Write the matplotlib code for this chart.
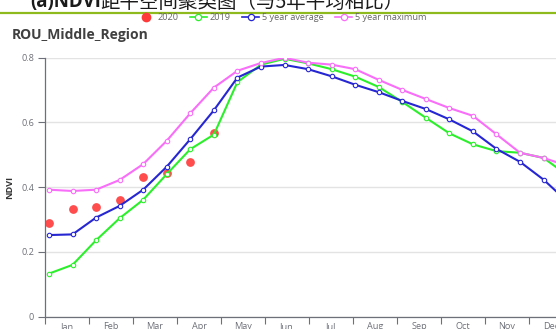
import matplotlib
matplotlib.use("Agg")
import matplotlib.pyplot as plt
from matplotlib.lines import Line2D

plt.rcParams['font.family'] = ['Open Sans', 'Noto Sans CJK SC', 'DejaVu Sans']

# 16-day composite periods (23 per year)
periods = list(range(1, 24))
months = ['Jan', 'Feb', 'Mar', 'Apr', 'May', 'Jun',
          'Jul', 'Aug', 'Sep', 'Oct', 'Nov', 'Dec']

ndvi_2020 = [0.288, 0.331, 0.340, 0.360, 0.430, 0.443, 0.477, 0.566]
ndvi_2019 = [0.133, 0.160, 0.236, 0.304, 0.361, 0.440, 0.517, 0.562, 0.724, 0.778,
             0.796, 0.782, 0.764, 0.741, 0.709, 0.663, 0.614, 0.566, 0.532, 0.511,
             0.506, 0.490, 0.437]
ndvi_avg5 = [0.252, 0.254, 0.306, 0.342, 0.392, 0.463, 0.548, 0.637, 0.738, 0.772,
             0.777, 0.764, 0.742, 0.716, 0.693, 0.666, 0.641, 0.609, 0.572, 0.518,
             0.478, 0.423, 0.356]
ndvi_max5 = [0.392, 0.388, 0.392, 0.422, 0.471, 0.543, 0.628, 0.707, 0.759, 0.783,
             0.799, 0.784, 0.778, 0.764, 0.731, 0.700, 0.672, 0.644, 0.620, 0.563,
             0.506, 0.490, 0.466]

c_red = '#ff3838'
c_green = '#2bef2b'
c_blue = '#2626d2'
c_pink = '#f86ef8'
c_axis = '#6e7079'

W, H = 556, 329
fig = plt.figure(figsize=(W / 100, H / 100), dpi=100)

# page header (partly outside the canvas) and separator rule
fig.text(30 / W, 1 - 7.5 / H, '(a)NDVI', fontsize=13.5, fontweight='bold',
         color='#1a1a1a', va='baseline', ha='left')
fig.text(100 / W, 1 - 7.5 / H, '距平空间聚类图（与5年平均相比）', fontsize=14,
         color='#1a1a1a', va='baseline', ha='left',
         family=['Noto Sans CJK SC', 'DejaVu Sans'])
fig.add_artist(Line2D([0, 1], [1 - 12.5 / H, 1 - 12.5 / H], color='#8fba1e',
                      lw=1.6, transform=fig.transFigure))

fig.text(12 / W, 1 - 34.5 / H, 'ROU_Middle_Region', fontsize=10, fontweight='bold',
         color='#404040', va='center', ha='left')

ax = fig.add_axes([45 / W, 12.3 / H, 528 / W, 259.2 / H])
ax.set_ylim(0, 0.8)
ax.set_yticks([0, 0.2, 0.4, 0.6, 0.8])
ax.set_yticklabels(['0', '0.2', '0.4', '0.6', '0.8'])
ax.grid(axis='y', color='#e3e3e3', lw=1.0)
ax.set_axisbelow(True)

# month axis: boundaries as ticks, names centred between them
ax.set_xlim(0, 12)
ax.set_xticks(range(13))
ax.set_xticklabels([])
ax.set_xticks([m + 0.5 for m in range(12)], minor=True)
ax.set_xticklabels(months, minor=True)
ax.tick_params(axis='x', which='major', length=5, width=0.8, color=c_axis)
ax.tick_params(axis='x', which='minor', length=0, pad=4, labelsize=6.6,
               labelcolor=c_axis)
ax.tick_params(axis='y', length=5, width=0.8, color=c_axis, pad=2.8,
               labelsize=6.6, labelcolor=c_axis)
for side in ['top', 'right']:
    ax.spines[side].set_visible(False)
for side in ['left', 'bottom']:
    ax.spines[side].set_color(c_axis)
    ax.spines[side].set_linewidth(0.9)

ax.set_ylabel('NDVI', fontsize=6.6, fontweight='bold', color='#333333')
ax.yaxis.set_label_coords(-0.058, 0.5)

# composite-period axis for the series
ax2 = ax.twiny()
ax2.set_xlim(0.83, 23.25)
ax2.tick_params(top=False, labeltop=False)
for sp in ax2.spines.values():
    sp.set_visible(False)

ax2.plot(periods[:len(ndvi_2020)], ndvi_2020, ls='none', marker='o', ms=6.3,
         color=c_red, alpha=0.9, mec='none', zorder=1)
line_kw = dict(lw=1.5, marker='o', ms=3.2, mfc='white', mew=0.8, zorder=3)
ax2.plot(periods, ndvi_2019, color=c_green, **line_kw)
ax2.plot(periods, ndvi_avg5, color=c_blue, **line_kw)
ax2.plot(periods, ndvi_max5, color=c_pink, **line_kw)

handles = [
    Line2D([], [], ls='none', marker='o', ms=7, color=c_red, mec='none'),
    Line2D([], [], color=c_green, lw=1.2, marker='o', ms=4.5, mfc='white', mew=0.9),
    Line2D([], [], color=c_blue, lw=1.2, marker='o', ms=4.5, mfc='white', mew=0.9),
    Line2D([], [], color=c_pink, lw=1.2, marker='o', ms=4.5, mfc='white', mew=0.9),
]
fig.legend(handles, ['2020', '2019', '5 year average', '5 year maximum'],
           loc='center', bbox_to_anchor=(282 / W, 1 - 17.5 / H), ncol=4,
           frameon=False, fontsize=6.6, labelcolor='#666666', handlelength=1.9,
           handletextpad=0.3, columnspacing=1.2, borderaxespad=0, borderpad=0)

fig.savefig('out.png', dpi=100)
